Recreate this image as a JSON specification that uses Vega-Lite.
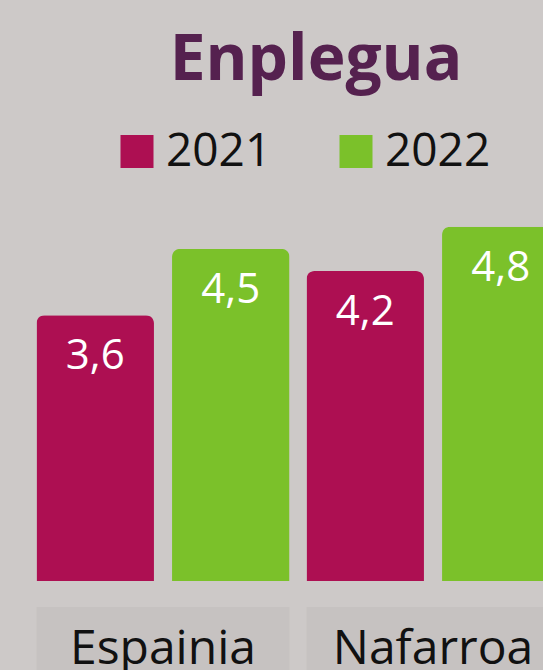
{
  "$schema": "https://vega.github.io/schema/vega-lite/v6.json",
  "autosize": {"type": "none"},
  "padding": {"left": 28, "top": 212, "right": -25, "bottom": 458},
  "background": "#CDC9C8",
  "bounds": "flush",
  "spacing": 26,
  "title": {
    "text": "Enplegua",
    "font": "Open Sans",
    "fontSize": 64,
    "fontWeight": "bold",
    "color": "#55214F",
    "anchor": "middle",
    "frame": "group",
    "baseline": "alphabetic",
    "offset": 46,
    "dy": 61,
    "dx": 18
  },
  "config": {
    "view": {"stroke": null},
    "legend": {
      "orient": "none",
      "legendX": 86,
      "legendY": -83.5,
      "direction": "horizontal",
      "padding": 0,
      "symbolType": "square",
      "symbolSize": 1089,
      "symbolStrokeWidth": 0,
      "symbolOpacity": 1,
      "labelFont": "Open Sans",
      "labelFontSize": 46,
      "labelColor": "#111111",
      "labelOffset": 6,
      "columnPadding": 61
    }
  },
  "data": {
    "values": [
      {"region": "Espainia", "year": "2021", "value": 3.6, "label": "3,6"},
      {"region": "Espainia", "year": "2022", "value": 4.5, "label": "4,5"},
      {"region": "Nafarroa", "year": "2021", "value": 4.2, "label": "4,2"},
      {"region": "Nafarroa", "year": "2022", "value": 4.8, "label": "4,8"}
    ]
  },
  "vconcat": [
    {
      "width": 540,
      "height": 369,
      "encoding": {
        "x": {
          "field": "region",
          "type": "nominal",
          "scale": {"paddingInner": 0.063, "paddingOuter": 0.0315},
          "axis": null
        },
        "xOffset": {
          "field": "year",
          "type": "nominal",
          "scale": {"paddingInner": 0.1333, "paddingOuter": 0}
        },
        "y": {
          "field": "value",
          "type": "quantitative",
          "scale": {"domain": [0, 5], "nice": false, "zero": true},
          "axis": null
        }
      },
      "layer": [
        {
          "mark": {"type": "bar", "cornerRadiusTopLeft": 8, "cornerRadiusTopRight": 8},
          "encoding": {
            "color": {
              "field": "year",
              "type": "nominal",
              "scale": {"domain": ["2021", "2022"], "range": ["#AD0F52", "#7BC12A"]},
              "legend": {"title": null}
            }
          }
        },
        {
          "mark": {
            "type": "text",
            "color": "white",
            "font": "Open Sans",
            "fontSize": 42,
            "baseline": "alphabetic",
            "align": "center",
            "dy": 54
          },
          "encoding": {
            "text": {"field": "label", "type": "nominal"}
          }
        }
      ]
    },
    {
      "width": 540,
      "height": 63,
      "transform": [
        {"aggregate": [{"op": "count", "as": "n"}], "groupby": ["region"]}
      ],
      "encoding": {
        "x": {
          "field": "region",
          "type": "nominal",
          "scale": {"paddingInner": 0.063, "paddingOuter": 0.0315},
          "axis": null
        }
      },
      "layer": [
        {"mark": {"type": "rect", "color": "#C6C2C1"}},
        {
          "mark": {
            "type": "text",
            "color": "#111111",
            "font": "Open Sans",
            "fontSize": 48,
            "baseline": "alphabetic",
            "align": "center",
            "dy": 25
          },
          "encoding": {
            "text": {"field": "region", "type": "nominal"}
          }
        }
      ]
    }
  ]
}
